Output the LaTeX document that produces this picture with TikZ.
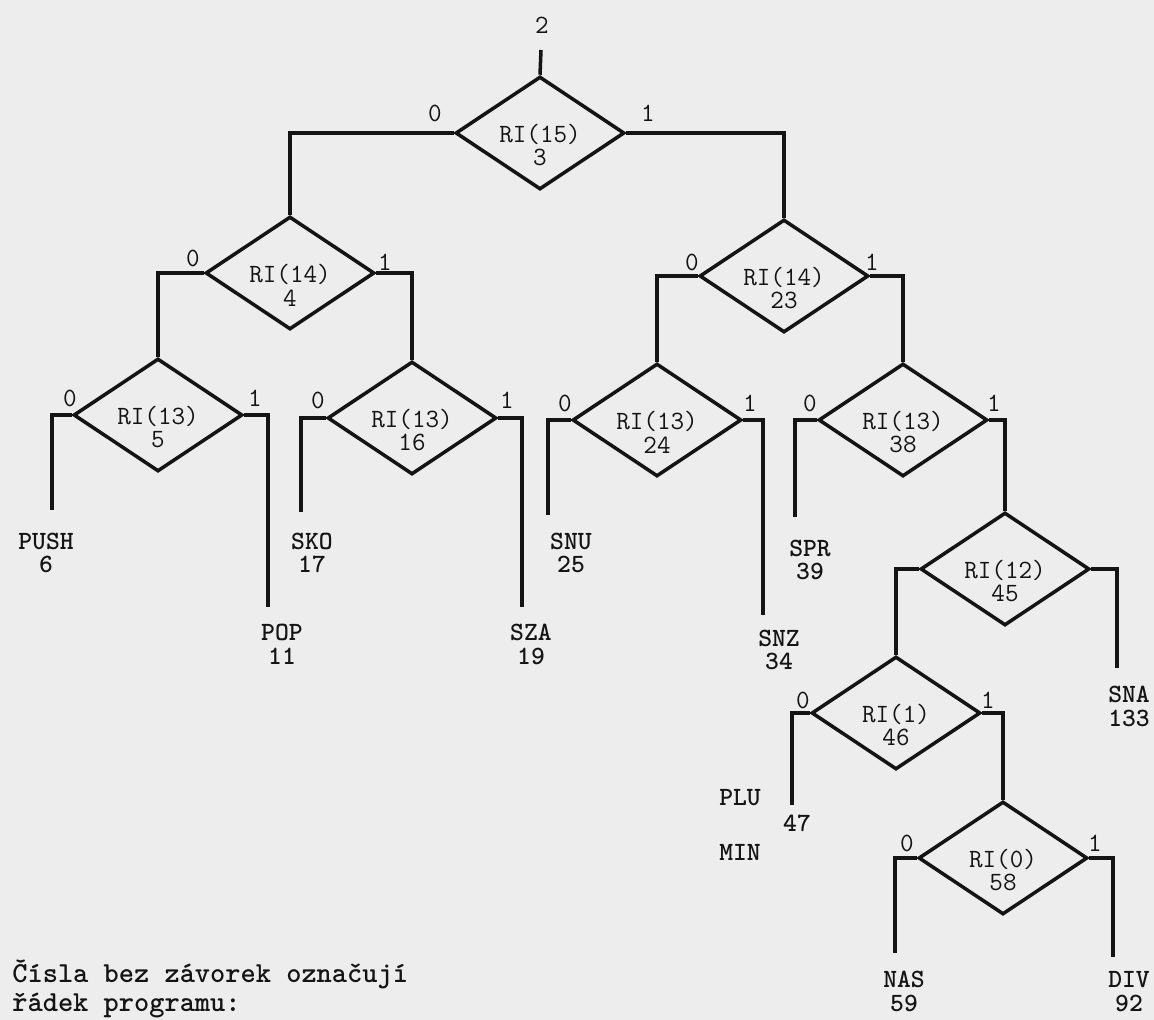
\documentclass[tikz,border=0pt]{standalone}
\usetikzlibrary{shapes.geometric}

\definecolor{paper}{gray}{0.93}
\definecolor{ink}{gray}{0.08}

\begin{document}
\begin{tikzpicture}[
  x=0.02cm, y=-0.02cm,
  font=\ttfamily\fontsize{15}{13.6}\selectfont,
  every node/.style={text=ink},
  cond/.style={draw=ink, shape=diamond, line width=2pt, inner sep=0pt,
    minimum width=3.38cm, minimum height=2.26cm},
  condtext/.style={align=center, yshift=-0.24cm},
  bit/.style={inner sep=0pt},
  term/.style={align=center, font=\ttfamily\bfseries\fontsize{15}{13.6}\selectfont, inner sep=0pt},
  note/.style={anchor=west, inner sep=0pt, font=\ttfamily\bfseries\fontsize{16.5}{16}\selectfont},
  wire/.style={draw=ink, line width=2pt}
]
\useasboundingbox (0,0) rectangle (1154,1020);
\fill[paper] (0,0) rectangle (1154,1020);

% decisions
\node[cond, label={[condtext]center:RI(15)\\3}] (d3) at (540,133) {};
\node[cond, label={[condtext]center:RI(14)\\4}] (d4) at (290,273) {};
\node[cond, label={[condtext]center:RI(14)\\23}] (d23) at (784,276) {};
\node[cond, label={[condtext]center:RI(13)\\5}] (d5) at (158,415) {};
\node[cond, label={[condtext]center:RI(13)\\16}] (d16) at (412,418) {};
\node[cond, label={[condtext]center:RI(13)\\24}] (d24) at (657,420) {};
\node[cond, label={[condtext]center:RI(13)\\38}] (d38) at (903,420) {};
\node[cond, label={[condtext]center:RI(12)\\45}] (d45) at (1005,569) {};
\node[cond, label={[condtext]center:RI(1)\\46}] (d46) at (896,713) {};
\node[cond, label={[condtext]center:RI(0)\\58}] (d58) at (1003,858) {};

% branch values
\node[bit] (top) at (542,25) {2};
\node[bit] (d3z) at (435,113) {0};
\node[bit] (d3o) at (648,113) {1};
\node[bit] (d4z) at (193,258) {0};
\node[bit] (d4o) at (385,262) {1};
\node[bit] (d23z) at (692,262) {0};
\node[bit] (d23o) at (872,262) {1};
\node[bit] (d5z) at (70,398) {0};
\node[bit] (d5o) at (255,398) {1};
\node[bit] (d16z) at (318,400) {0};
\node[bit] (d16o) at (507,400) {1};
\node[bit] (d24z) at (565,403) {0};
\node[bit] (d24o) at (750,403) {1};
\node[bit] (d38z) at (810,403) {0};
\node[bit] (d38o) at (994,403) {1};
\node[bit] (d46z) at (803,700) {0};
\node[bit] (d46o) at (988,700) {1};
\node[bit] (d58z) at (907,843) {0};
\node[bit] (d58o) at (1095,843) {1};

% ends of the legs
\coordinate (c2) at (541,50);
\coordinate (e6) at (52,510);
\coordinate (e11) at (268,607);
\coordinate (e17) at (301,512);
\coordinate (e19) at (522,607);
\coordinate (e25) at (548,515);
\coordinate (e34) at (763,615);
\coordinate (e39) at (795,517);
\coordinate (e133) at (1117,668);
\coordinate (e47) at (792,805);
\coordinate (e59) at (895,953);
\coordinate (e92) at (1113,957);

% instructions
\node[term] (t6) at (46,553) {PUSH\\6};
\node[term] (t11) at (282,644) {POP\\11};
\node[term] (t17) at (312,553) {SKO\\17};
\node[term] (t19) at (531,644) {SZA\\19};
\node[term] (t25) at (571,553) {SNU\\25};
\node[term] (t34) at (779,650) {SNZ\\34};
\node[term] (t39) at (810,560) {SPR\\39};
\node[term] (t133) at (1129,706) {SNA\\133};
\node[term] (tplu) at (740,798) {PLU};
\node[term] (t47) at (797,823) {47};
\node[term] (tmin) at (740,852) {MIN};
\node[term] (t59) at (904,991) {NAS\\59};
\node[term] (t92) at (1129,992) {DIV\\92};

\node[note] (note1) at (12,974) {Čísla bez závorek označují};
\node[note] (note2) at (12,1006) {řádek programu:};

% connections
\draw[wire] (c2) -- (d3.north);
\draw[wire] (d3.west) -| (d4.north);
\draw[wire] (d3.east) -| (d23.north);
\draw[wire] (d4.west) -| (d5.north);
\draw[wire] (d4.east) -| (d16.north);
\draw[wire] (d23.west) -| (d24.north);
\draw[wire] (d23.east) -| (d38.north);
\draw[wire] (d38.east) -| (d45.north);
\draw[wire] (d45.west) -| (d46.north);
\draw[wire] (d46.east) -| (d58.north);
\draw[wire] (d5.west) -| (e6);
\draw[wire] (d5.east) -| (e11);
\draw[wire] (d16.west) -| (e17);
\draw[wire] (d16.east) -| (e19);
\draw[wire] (d24.west) -| (e25);
\draw[wire] (d24.east) -| (e34);
\draw[wire] (d38.west) -| (e39);
\draw[wire] (d45.east) -| (e133);
\draw[wire] (d46.west) -| (e47);
\draw[wire] (d58.west) -| (e59);
\draw[wire] (d58.east) -| (e92);
\end{tikzpicture}
\end{document}
